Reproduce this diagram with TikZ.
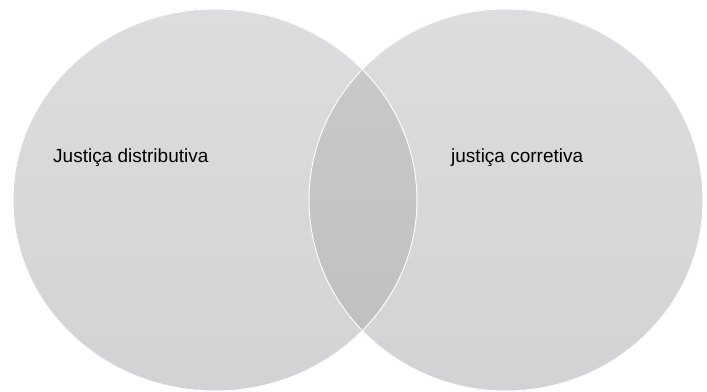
\documentclass[tikz,border=0pt]{standalone}
\usepackage{fontspec}
\setmainfont{Liberation Sans}
\definecolor{setgray}{HTML}{DCDDDE}
\definecolor{setgraylow}{HTML}{D2D3D4}
\definecolor{lensgray}{HTML}{C9CACB}
\definecolor{lensgraylow}{HTML}{BEBFC0}

\begin{document}
\begin{tikzpicture}[x=1pt,y=1pt]
\useasboundingbox (0,0) rectangle (707,391);
% two sets
\fill[top color=setgray,bottom color=setgraylow] (215,191) ellipse [x radius=202, y radius=191];
\fill[top color=setgray,bottom color=setgraylow] (506,191) ellipse [x radius=197, y radius=191];
% overlap
\begin{scope}
\clip (215,191) ellipse [x radius=202, y radius=191];
\fill[top color=lensgray,bottom color=lensgraylow] (506,191) ellipse [x radius=197, y radius=191];
\end{scope}
\draw[white,line width=1pt] (215,191) ellipse [x radius=202, y radius=191];
\draw[white,line width=1pt] (506,191) ellipse [x radius=197, y radius=191];
\node[anchor=base west,inner sep=0pt,font=\fontsize{19}{22}\selectfont] (distlabel) at (53,228) {Justiça distributiva};
\node[anchor=base west,inner sep=0pt,font=\fontsize{19}{22}\selectfont] (corrlabel) at (451,228) {justiça corretiva};
\end{tikzpicture}
\end{document}
